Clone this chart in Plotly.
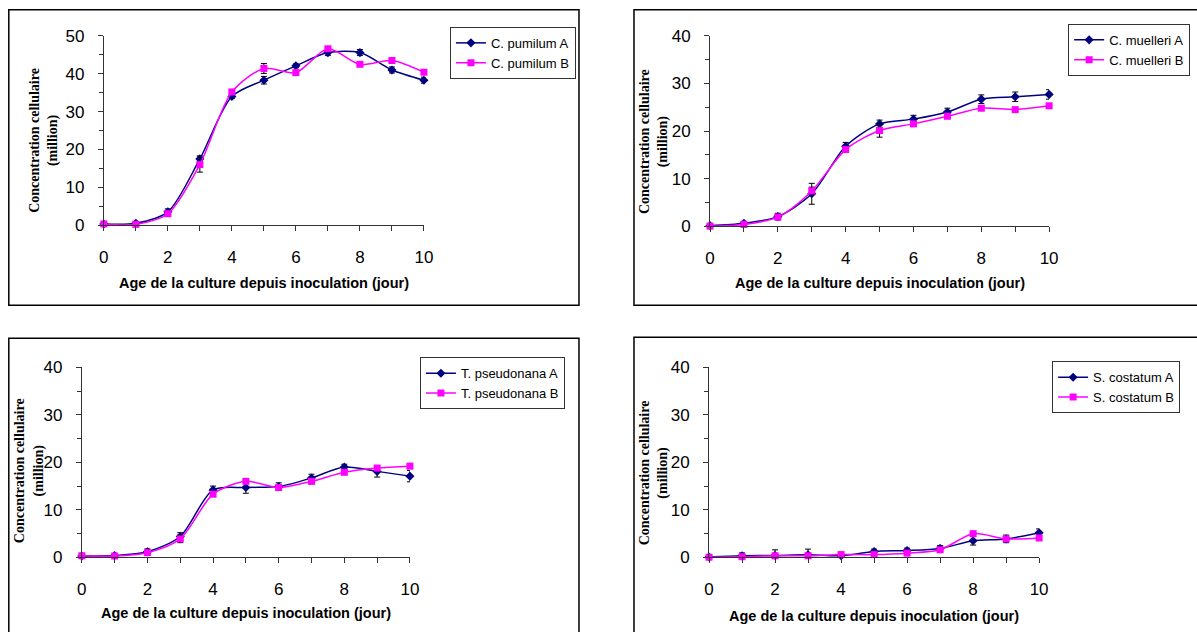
import plotly.graph_objects as go

W, H = 1197, 632
days = [0, 1, 2, 3, 4, 5, 6, 7, 8, 9, 10]

# C. pumilum
pum_A = [0.3, 0.5, 3.5, 17.5, 34.0, 38.3, 42.1, 45.6, 45.6, 41.0, 38.3]
pum_B = [0.3, 0.2, 3.0, 16.0, 35.2, 41.4, 40.3, 46.6, 42.5, 43.5, 40.4]
pum_A_err = [0.2, 0.3, 0.8, 0.8, 0.5, 1.0, 0.5, 0.8, 0.8, 0.8, 0.8]
pum_B_err = [0.2, 0.2, 0.5, 2.0, 0.5, 1.3, 0.5, 0.5, 0.5, 0.5, 0.5]
# C. muelleri
mue_A = [0.1, 0.6, 2.0, 6.8, 16.8, 21.5, 22.5, 24.0, 26.7, 27.2, 27.7]
mue_B = [0.0, 0.35, 1.9, 7.4, 16.1, 20.1, 21.5, 23.1, 24.8, 24.5, 25.3]
mue_A_err = [0.1, 0.4, 0.7, 2.2, 0.8, 0.8, 0.8, 0.8, 0.9, 1.0, 1.0]
mue_B_err = [0.1, 0.2, 0.5, 0.8, 0.5, 1.4, 0.4, 0.4, 0.5, 0.4, 0.5]
# T. pseudonana
pse_A = [0.3, 0.4, 1.2, 4.4, 14.2, 14.7, 14.9, 16.7, 19.0, 18.1, 17.1]
pse_B = [0.35, 0.3, 1.0, 3.9, 13.3, 16.0, 14.7, 16.0, 17.9, 18.8, 19.2]
pse_A_err = [0.1, 0.2, 0.6, 0.8, 0.8, 1.2, 0.8, 0.8, 0.6, 1.2, 1.2]
pse_B_err = [0.1, 0.1, 0.3, 0.8, 0.5, 0.3, 0.5, 0.5, 0.4, 0.4, 0.3]
# S. costatum
cos_A = [0.1, 0.35, 0.4, 0.55, 0.35, 1.25, 1.45, 1.9, 3.5, 3.9, 5.2]
cos_B = [0.05, 0.15, 0.35, 0.35, 0.6, 0.6, 0.9, 1.6, 5.0, 3.9, 4.1]
cos_A_err = [0.1, 0.6, 1.2, 1.2, 0.5, 0.5, 0.5, 0.6, 0.9, 0.8, 0.8]
cos_B_err = [0.05, 0.1, 0.3, 0.3, 0.2, 0.2, 0.2, 0.3, 0.3, 0.3, 0.3]

names = [("C. pumilum A", "C. pumilum B"), ("C. muelleri A", "C. muelleri B"),
         ("T. pseudonana A", "T. pseudonana B"), ("S. costatum A", "S. costatum B")]
series = [(pum_A, pum_B, pum_A_err, pum_B_err), (mue_A, mue_B, mue_A_err, mue_B_err),
          (pse_A, pse_B, pse_A_err, pse_B_err), (cos_A, cos_B, cos_A_err, cos_B_err)]
ymax = [50, 40, 40, 40]

# target screen-pixel layout: (x at day 0, x at day 10, y at 0, y at top)
axes_px = [(103, 423, 225, 36), (709, 1048, 226, 36), (81, 409, 557, 367), (708, 1038, 557, 367)]
legend_px = [(449, 27), (1067, 24), (419, 357), (1051, 361)]
ytitle_px = [(43, 140), (653, 141), (29, 470), (653, 472)]
xtitle_y_px = [283, 283, 613, 616]
boxes_px = [(8, 7, 578, 305), (633, 7, 1215, 305), (8, 338, 578, 650), (633, 337, 1215, 650)]

# page offset / scale observed in the rendered picture
SX, TX = 0.988, 4.2
SY, TY = 0.969, 9.1

def px(x):
    return ((x - TX) / SX) / W

def py(y):
    return 1 - ((y - TY) / SY) / H

NAVY = "#000080"
MAG = "#FF00FF"

fig = go.Figure()
layout = dict(width=W, height=H, margin=dict(l=0, r=0, t=0, b=0),
              paper_bgcolor="white", plot_bgcolor="white", showlegend=True)
annotations = []
shapes = []

for i in range(4):
    sfx = "" if i == 0 else str(i + 1)
    A, B, eA, eB = series[i]
    nA, nB = names[i]
    lg = "legend" + sfx
    fig.add_trace(go.Scatter(
        x=days, y=A, name=nA, mode="lines+markers", xaxis="x" + sfx, yaxis="y" + sfx,
        line=dict(color=NAVY, width=1.5, shape="spline", smoothing=0.8),
        marker=dict(symbol="diamond", size=7, color=NAVY),
        error_y=dict(type="data", array=eA, color="black", thickness=1, width=3),
        legend=lg, legendgroup="a" + sfx, cliponaxis=False))
    fig.add_trace(go.Scatter(
        x=days, y=B, name=nB, mode="lines+markers", xaxis="x" + sfx, yaxis="y" + sfx,
        line=dict(color=MAG, width=1.5, shape="spline", smoothing=0.8),
        marker=dict(symbol="square", size=7, color=MAG),
        error_y=dict(type="data", array=eB, color="black", thickness=1, width=3),
        legend=lg, legendgroup="b" + sfx, cliponaxis=False))

    x0, x1, y0, yt = axes_px[i]
    layout["xaxis" + sfx] = dict(
        domain=[px(x0), px(x1)], range=[0, 10], anchor="y" + sfx,
        tickvals=days, ticktext=[str(d) if d % 2 == 0 else "" for d in days],
        ticks="outside", ticklen=5, tickcolor="#333", showline=True, linecolor="#333",
        linewidth=1, showgrid=False, zeroline=False, ticklabelstandoff=11,
        tickfont=dict(family="Liberation Sans", size=17, color="black"))
    layout["yaxis" + sfx] = dict(
        domain=[py(y0), py(yt)], range=[0, ymax[i]], anchor="x" + sfx, dtick=10,
        ticks="outside", ticklen=5, tickcolor="#333", showline=True, linecolor="#333",
        linewidth=1, showgrid=False, zeroline=False, ticklabelstandoff=10,
        minor=dict(dtick=5, ticks="outside", ticklen=4, tickcolor="#333", showgrid=False),
        tickfont=dict(family="Liberation Sans", size=17, color="black"))
    lx, ly = legend_px[i]
    layout[lg] = dict(x=px(lx), y=py(ly), xanchor="left", yanchor="top",
                      bordercolor="#333", borderwidth=1, bgcolor="white",
                      font=dict(family="Liberation Sans", size=13, color="black"),
                      itemwidth=30, tracegroupgap=0)
    tx, ty = ytitle_px[i]
    annotations.append(dict(
        x=px(tx), y=py(ty), xref="paper", yref="paper", xanchor="center", yanchor="middle",
        showarrow=False, textangle=-90,
        text="<b>Concentration cellulaire</b><br><b>(million)</b>",
        font=dict(family="Liberation Serif", size=14, color="black")))
    annotations.append(dict(
        x=px((x0 + x1) / 2), y=py(xtitle_y_px[i]), xref="paper", yref="paper",
        xanchor="center", yanchor="middle",
        showarrow=False, text="<b>Age de la culture depuis inoculation (jour)</b>",
        font=dict(family="Liberation Sans", size=14.5, color="black")))
    bx0, by0, bx1, by1 = boxes_px[i]
    shapes.append(dict(type="rect", xref="paper", yref="paper",
                       x0=px(bx0), x1=px(bx1),
                       y0=py(by1), y1=min(py(by0), 1 - 0.8 / H),
                       line=dict(color="black", width=1.5)))

layout["annotations"] = annotations
layout["shapes"] = shapes
fig.update_layout(**layout)
fig.write_html("out.html")
